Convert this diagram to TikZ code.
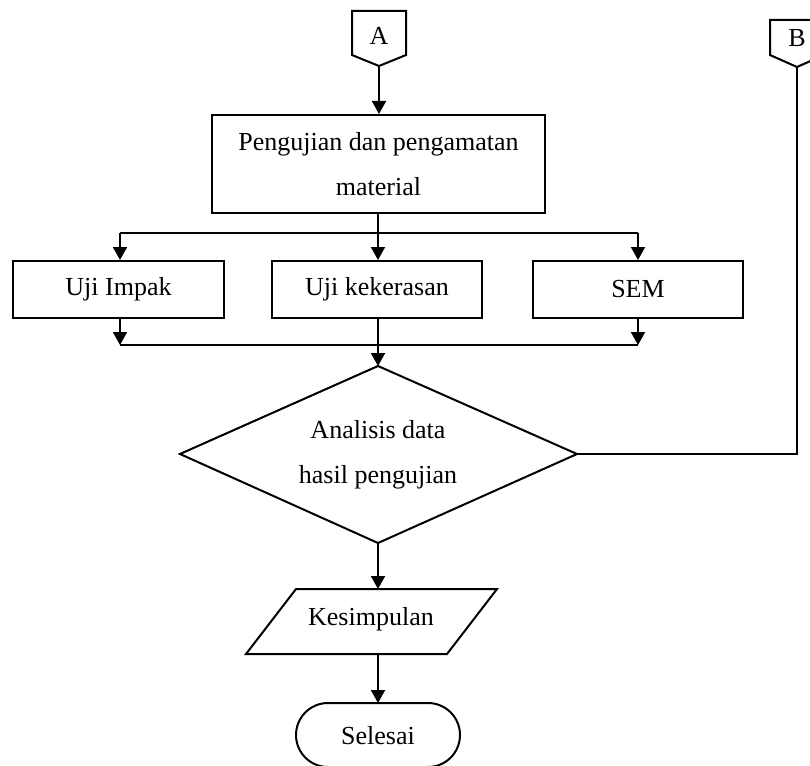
\documentclass[tikz,border=0pt]{standalone}
\usepackage{fontspec}
\setmainfont{Liberation Serif}
\usetikzlibrary{arrows.meta}
\begin{document}
\begin{tikzpicture}[x=1pt,y=-1pt,
  line width=2pt,
  txt/.style={font=\fontsize{26}{45}\selectfont, inner sep=0pt, align=center},
  boxnode/.style={draw, rectangle, inner sep=0pt, font=\fontsize{26}{45}\selectfont, align=center},
  arr/.style={-{Triangle[length=13pt,width=14pt]}}]
\useasboundingbox (0,0) rectangle (810,765);
\clip (0,0) rectangle (810,765);
% off-page connectors
\draw (352,11) -- (406,11) -- (406,55) -- (379,66) -- (352,55) -- cycle;
\node[txt] (A) at (379,36) {A};
\coordinate (Ab) at (379,66);
\draw (770,20) -- (824,20) -- (824,55) -- (797,67) -- (770,55) -- cycle;
\node[txt] (B) at (797,38) {B};
\coordinate (Bb) at (797,67);
% main box
\node[boxnode, minimum width=333pt, minimum height=98pt] (P) at (378.5,164) {Pengujian dan pengamatan\\material};
% test boxes
\node[boxnode, minimum width=211pt, minimum height=57pt] (I1) at (118.5,289.5) {Uji Impak};
\node[boxnode, minimum width=210pt, minimum height=57pt] (I2) at (377,289.5) {Uji kekerasan};
\node[boxnode, minimum width=210pt, minimum height=57pt] (I3) at (638,289.5) {SEM};
% junction coordinates
\coordinate (s1) at (120,233);
\coordinate (s2) at (378,233);
\coordinate (s3) at (638,233);
\coordinate (m1) at (120,345);
\coordinate (m3) at (638,345);
% diamond
\coordinate (Dt) at (378,366);
\coordinate (Dl) at (180,454);
\coordinate (Dr) at (577,454);
\coordinate (Db) at (378,543);
\draw (Dt) -- (Dr) -- (Db) -- (Dl) -- cycle;
\node[txt] (D) at (378,455) {Analisis data\\hasil pengujian};
% parallelogram
\coordinate (Kt) at (378,589);
\coordinate (Kb) at (378,654);
\draw (296,589) -- (497,589) -- (447,654) -- (246,654) -- cycle;
\node[txt] (K) at (371,619) {Kesimpulan};
% terminal
\draw[rounded corners=32pt] (296,703) rectangle (460,767);
\coordinate (St) at (378,703);
\node[txt] (S) at (378,736) {Selesai};
% connectors
\draw[arr] (Ab) -- (Ab |- P.north);
\draw (P.south -| s2) -- (s2);
\draw (s1) -- (s3);
\draw[arr] (s1) -- (s1 |- I1.north);
\draw[arr] (s2) -- (s2 |- I2.north);
\draw[arr] (s3) -- (s3 |- I3.north);
\draw[arr] (m1 |- I1.south) -- (m1);
\draw[arr] (m3 |- I3.south) -- (m3);
\draw (m1) -- (m3);
\draw[arr] (s2 |- I2.south) -- (Dt);
\draw (Bb) -- (Bb |- Dr) -- (Dr);
\draw[arr] (Db) -- (Kt);
\draw[arr] (Kb) -- (St);
\end{tikzpicture}
\end{document}
